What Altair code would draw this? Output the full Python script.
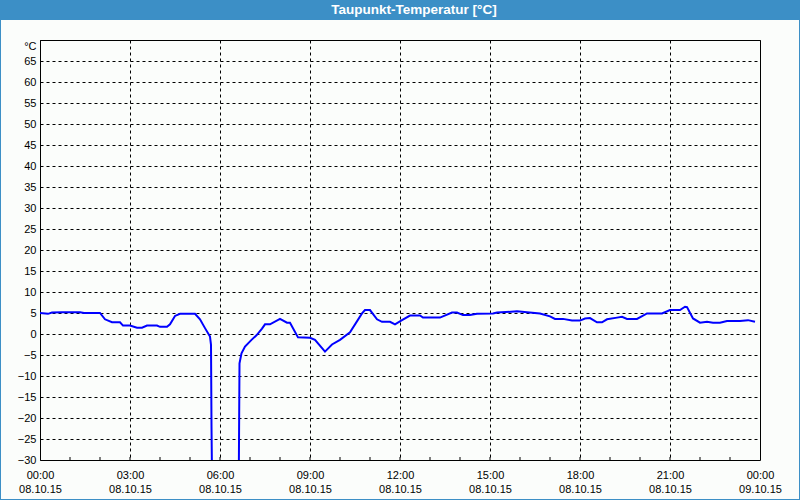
import altair as alt
import pandas as pd

# minutes after 08.10.15 00:00 and dew point values (°C)
minutes = [0, 16, 24, 44, 80, 88, 120, 130, 144, 160, 166, 180, 194, 204, 214, 234,
           240, 254, 260, 270, 280, 310, 320, 330, 340, 342, 343, 345, 370, 397,
           399, 403, 410, 423, 433, 444, 450, 460, 480, 494, 500, 516, 540, 550,
           570, 584, 600, 620, 644, 650, 660, 674, 684, 700, 710, 724, 740, 760,
           766, 800, 824, 834, 846, 860, 874, 906, 914, 954, 974, 1000, 1020, 1030,
           1046, 1064, 1080, 1090, 1100, 1114, 1124, 1134, 1154, 1164, 1174, 1194,
           1214, 1244, 1260, 1280, 1290, 1294, 1306, 1320, 1334, 1346, 1360, 1374,
           1400, 1416, 1430]
values = [5.0, 4.8, 5.1, 5.2, 5.2, 5.0, 5.0, 3.5, 2.8, 2.8, 2.0, 2.0, 1.5, 1.5, 2.0, 2.0,
          1.7, 1.7, 2.3, 4.3, 4.8, 4.8, 3.5, 1.4, -0.6, -2.6, -22.0, -45.0, -45.0, -45.0,
          -7.0, -4.6, -3.0, -1.4, -0.3, 1.3, 2.3, 2.3, 3.6, 2.7, 2.7, -0.8, -0.9, -1.4,
          -4.2, -2.5, -1.4, 0.4, 4.9, 5.7, 5.7, 3.5, 2.9, 2.9, 2.3, 3.3, 4.4, 4.4,
          3.9, 3.9, 5.1, 5.1, 4.5, 4.5, 4.8, 4.9, 5.1, 5.4, 5.2, 4.9, 4.2, 3.6,
          3.6, 3.2, 3.2, 3.7, 3.8, 2.8, 2.8, 3.5, 3.9, 4.1, 3.6, 3.6,
          4.9, 4.9, 5.7, 5.7, 6.5, 6.4, 3.7, 2.7, 2.9, 2.7, 2.7, 3.1,
          3.1, 3.3, 2.9]

tick_hours = list(range(0, 25, 3))
minor_hours = list(range(1, 24))
y_ticks = list(range(-30, 75, 5))
title_text = "Taupunkt-Temperatur [°C]"

start = pd.Timestamp("2015-10-08 00:00")
df = pd.DataFrame({
    "t": [(start + pd.Timedelta(minutes=m)).strftime("%Y-%m-%dT%H:%M:%S") for m in minutes],
    "v": values,
})
minor_df = pd.DataFrame({
    "t": [(start + pd.Timedelta(hours=h)).strftime("%Y-%m-%dT%H:%M:%S") for h in minor_hours]
})


def dt(h):
    d = start + pd.Timedelta(hours=h)
    return alt.DateTime(year=d.year, month=d.month, date=d.day, hours=d.hour, minutes=0)


W, H = 720, 420
x_scale = alt.Scale(domain=[dt(0), dt(24)])
y_scale = alt.Scale(domain=[-30, 70], nice=False, zero=False)

x_axis = alt.Axis(
    values=[dt(h) for h in tick_hours],
    labelExpr="[timeFormat(datum.value, '%H:%M'), timeFormat(datum.value, '%d.%m.%y')]",
    grid=True, gridColor="black", gridDash=[3, 3], gridWidth=1, gridOpacity=1,
    domain=False, ticks=False, labelPadding=9, labelLineHeight=14,
    labelFont="Liberation Sans", labelFontSize=11, labelColor="black",
    labelBaseline="top", title=None, labelFlush=False, labelOverlap=False,
)
y_axis = alt.Axis(
    values=y_ticks,
    labelExpr="datum.value == 70 ? '°C' : datum.label",
    labelBaseline={"condition": {"test": "datum.value == 70", "value": "top"}, "value": "middle"},
    grid=True, gridColor="black", gridDash=[3, 3], gridWidth=1, gridOpacity=1,
    domain=False, ticks=False, labelPadding=4,
    labelFont="Liberation Sans", labelFontSize=11, labelColor="black",
    title=None, labelOverlap=False, labelFlush=False,
)

line = alt.Chart(df).mark_line(color="#0000ff", strokeWidth=2, clip=True).encode(
    x=alt.X("t:T", scale=x_scale, axis=x_axis),
    y=alt.Y("v:Q", scale=y_scale, axis=y_axis),
)

minor = alt.Chart(minor_df).mark_rule(color="black", strokeWidth=1).encode(
    x=alt.X("t:T", scale=x_scale),
    y=alt.value(H),
    y2=alt.value(H - 3),
)

title_bar = alt.Chart(pd.DataFrame({"a": [0]})).mark_rect(color="#3c8fc6").encode(
    x=alt.value(-40), x2=alt.value(W + 40), y=alt.value(-40), y2=alt.value(-20)
)
border = alt.Chart(pd.DataFrame({"a": [0]})).mark_rect(
    fillOpacity=0, stroke="#3c8fc6", strokeWidth=2
).encode(
    x=alt.value(-40), x2=alt.value(W + 40), y=alt.value(-40), y2=alt.value(H + 40)
)
title = alt.Chart(pd.DataFrame({"txt": [title_text]})).mark_text(
    color="white", font="Liberation Sans", fontSize=13.5, fontWeight="bold",
    align="center", baseline="middle"
).encode(
    x=alt.value(374), y=alt.value(-30), text="txt:N"
)

chart = alt.layer(minor, line, title_bar, border, title).properties(
    width=W, height=H,
    autosize=alt.AutoSizeParams(type="none"),
    padding={"left": 40, "top": 40, "right": 40, "bottom": 40},
    background="#fbfdfb",
).configure_view(stroke="black", strokeWidth=1)

chart.save("out.html", embed_options={"renderer": "svg", "actions": False})
